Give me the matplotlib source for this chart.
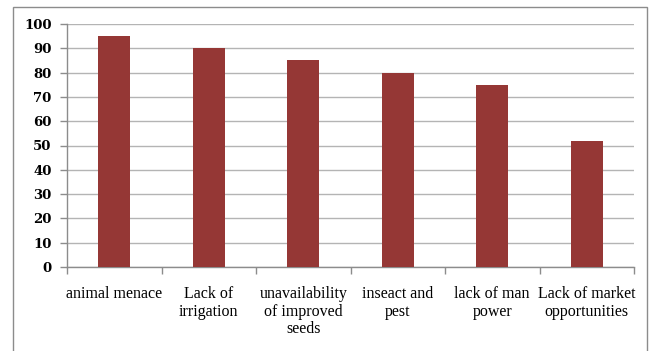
import matplotlib
matplotlib.use("Agg")
import matplotlib.pyplot as plt
from matplotlib.patches import Rectangle

categories = ["animal menace", "Lack of\nirrigation", "unavailability\nof improved\nseeds",
              "inseact and\npest", "lack of man\npower", "Lack of market\nopportunities"]
values = [95, 90, 85, 80, 75, 52]
yticks = [0, 10, 20, 30, 40, 50, 60, 70, 80, 90, 100]

W, H = 651, 351
fig = plt.figure(figsize=(W / 100, H / 100), dpi=100)

# outer chart frame
fig.patches.append(Rectangle((13 / W, -0.05), (647 - 13) / W, 1.05 - 7 / H,
                             transform=fig.transFigure, fill=False,
                             edgecolor="#8c8c8c", linewidth=1.0))

ax = fig.add_axes([67 / W, (H - 267) / H, (634 - 67) / W, (267 - 24) / H])
x = list(range(len(categories)))
ax.bar(x, values, width=0.34, color="#953735", zorder=3)

ax.set_xlim(-0.5, len(categories) - 0.5)
ax.set_ylim(0, 100)
ax.set_yticks(yticks)
ax.set_yticklabels([str(v) for v in yticks], fontfamily="DejaVu Serif",
                   fontweight="bold", fontsize=9.5)
ax.yaxis.grid(True, color="#b4b4b4", linewidth=1.0, zorder=0)
ax.set_axisbelow(True)

ax.set_xticks(x)
ax.set_xticklabels(categories, fontfamily="Liberation Serif", fontsize=11.5,
                   linespacing=1.1)
ax.tick_params(axis="x", length=0, pad=14)
ax.set_xticks([i - 0.5 for i in range(len(categories) + 1)], minor=True)
ax.tick_params(axis="x", which="minor", length=5, color="#8c8c8c", width=1.0)
ax.tick_params(axis="y", length=5, color="#8c8c8c", width=1.0, pad=6)

for s in ["top", "right"]:
    ax.spines[s].set_visible(False)
for s in ["left", "bottom"]:
    ax.spines[s].set_color("#8c8c8c")
    ax.spines[s].set_linewidth(1.0)

fig.savefig("out.png", dpi=100)
